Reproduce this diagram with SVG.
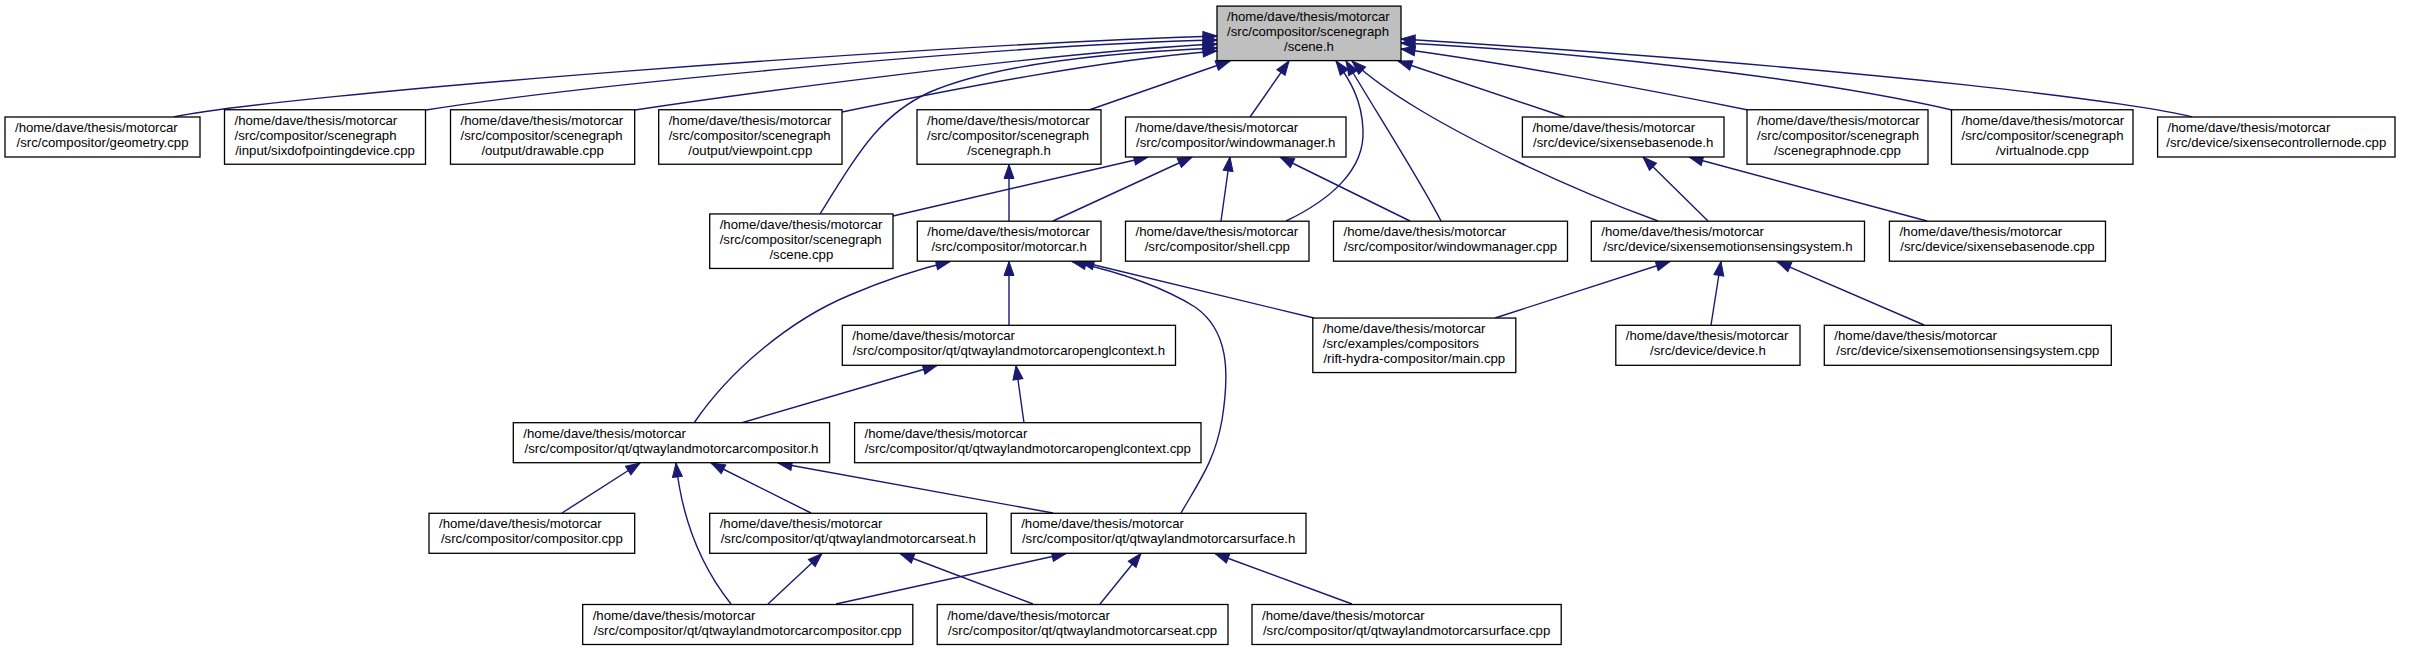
<svg xmlns="http://www.w3.org/2000/svg" width="2412" height="651" viewBox="0 0 2412 651">
<defs>
<marker id="arr" markerUnits="userSpaceOnUse" markerWidth="16" markerHeight="12" viewBox="0 0 16 12" refX="15" refY="6" orient="auto">
<path d="M1,1 L15,6 L1,11 Z" fill="#191970" stroke="#191970" stroke-width="1"/>
</marker>
</defs>
<style>
.n rect{fill:#ffffff;stroke:#000000;stroke-width:1.3}
.root rect{fill:#bfbfbf}
text{font-family:"Liberation Sans",Arial,Helvetica,sans-serif;font-size:13.2px;fill:#000000}
.m{text-anchor:middle}
#edges path{fill:none;stroke:#191970;stroke-width:1.4;marker-end:url(#arr)}
</style>
<rect width="2412" height="651" fill="#ffffff"/>
<g id="edges">
<path d="M173.5,117 C273.5,95 917,45 1217,36"/>
<path d="M426,110 C576,86 1000,45 1217,40"/>
<path d="M635,110 C735,95 1050,52 1217,44"/>
<path d="M842,112 C950,90 1100,60 1217,51"/>
<path d="M820,214 C860,150 880,115 930,92 C1000,62 1120,52 1217,48"/>
<path d="M1089,110 L1230,61"/>
<path d="M1250,117 L1289,61"/>
<path d="M1286,221 C1330,200 1365,170 1363,130 C1362,100 1350,80 1336,61"/>
<path d="M1441,221 C1420,180 1375,110 1346,61"/>
<path d="M1658,221 C1560,185 1470,140 1420,110 C1390,92 1370,78 1352,61"/>
<path d="M1565,117 L1398,61"/>
<path d="M1748,110 C1650,90 1500,62 1401,49"/>
<path d="M1952,110 C1800,75 1550,50 1401,43"/>
<path d="M2192,117 C2150,105 1900,70 1401,39"/>
<path d="M893,216 L1148,157"/>
<path d="M1053,221 L1192,157"/>
<path d="M1221,221 L1230,157"/>
<path d="M1410,221 L1280,157"/>
<path d="M1009,221 L1009,164.5"/>
<path d="M1708,221 L1643,157"/>
<path d="M1927,221 L1689,157"/>
<path d="M1009,325 L1009,261.5"/>
<path d="M1314,318 L1080,261.5"/>
<path d="M1495,318 L1670,261.5"/>
<path d="M1711,325 L1721,261.5"/>
<path d="M1924,325 L1777,261.5"/>
<path d="M694,423 C730,370 790,320 850,295 C885,280 915,270 950,261.5"/>
<path d="M741,423 L937,365.5"/>
<path d="M1024,423 L1016,365.5"/>
<path d="M1181,513 C1200,480 1215,460 1222,420 C1230,370 1228,330 1195,307 C1160,285 1110,270 1072,261.5"/>
<path d="M562,513 L640,463"/>
<path d="M811,513 L711,463"/>
<path d="M1053,513 L778,463"/>
<path d="M731,604 C700,565 682,520 676,463"/>
<path d="M768,604 L822,553.5"/>
<path d="M836,604 L1066,553.5"/>
<path d="M1033,604 L900,553.5"/>
<path d="M1100,604 L1141,553.5"/>
<path d="M1352,604 L1215,553.5"/>
</g>
<g id="node-scene-h" class="n root"><rect x="1217" y="6.1" width="184" height="54.5"/><text x="1227" y="20.85">/home/dave/thesis/motorcar</text><text x="1227" y="35.85">/src/compositor/scenegraph</text><text class="m" x="1309" y="50.85">/scene.h</text></g>
<g id="node-geometry-cpp" class="n"><rect x="5" y="117" width="195" height="40"/><text x="15" y="132">/home/dave/thesis/motorcar</text><text class="m" x="102.5" y="147">/src/compositor/geometry.cpp</text></g>
<g id="node-sixdofpointingdevice-cpp" class="n"><rect x="224.5" y="109.75" width="201" height="54.5"/><text x="234.5" y="124.5">/home/dave/thesis/motorcar</text><text x="234.5" y="139.5">/src/compositor/scenegraph</text><text class="m" x="325" y="154.5">/input/sixdofpointingdevice.cpp</text></g>
<g id="node-drawable-cpp" class="n"><rect x="450.5" y="109.75" width="184.2" height="54.5"/><text x="460.5" y="124.5">/home/dave/thesis/motorcar</text><text x="460.5" y="139.5">/src/compositor/scenegraph</text><text class="m" x="542.6" y="154.5">/output/drawable.cpp</text></g>
<g id="node-viewpoint-cpp" class="n"><rect x="658.7" y="109.75" width="183.3" height="54.5"/><text x="668.7" y="124.5">/home/dave/thesis/motorcar</text><text x="668.7" y="139.5">/src/compositor/scenegraph</text><text class="m" x="750.3" y="154.5">/output/viewpoint.cpp</text></g>
<g id="node-scenegraph-h" class="n"><rect x="917" y="109.75" width="184" height="54.5"/><text x="927" y="124.5">/home/dave/thesis/motorcar</text><text x="927" y="139.5">/src/compositor/scenegraph</text><text class="m" x="1009" y="154.5">/scenegraph.h</text></g>
<g id="node-windowmanager-h" class="n"><rect x="1125.5" y="117" width="220.5" height="40"/><text x="1135.5" y="132">/home/dave/thesis/motorcar</text><text class="m" x="1235.75" y="147">/src/compositor/windowmanager.h</text></g>
<g id="node-sixensebasenode-h" class="n"><rect x="1522.4" y="117" width="201.6" height="40"/><text x="1532.4" y="132">/home/dave/thesis/motorcar</text><text class="m" x="1623.2" y="147">/src/device/sixensebasenode.h</text></g>
<g id="node-scenegraphnode-cpp" class="n"><rect x="1747" y="109.75" width="181" height="54.5"/><text x="1757" y="124.5">/home/dave/thesis/motorcar</text><text x="1757" y="139.5">/src/compositor/scenegraph</text><text class="m" x="1837.5" y="154.5">/scenegraphnode.cpp</text></g>
<g id="node-virtualnode-cpp" class="n"><rect x="1951.5" y="109.75" width="181.5" height="54.5"/><text x="1961.5" y="124.5">/home/dave/thesis/motorcar</text><text x="1961.5" y="139.5">/src/compositor/scenegraph</text><text class="m" x="2042.25" y="154.5">/virtualnode.cpp</text></g>
<g id="node-sixensecontrollernode-cpp" class="n"><rect x="2157.6" y="117" width="237.4" height="40"/><text x="2167.6" y="132">/home/dave/thesis/motorcar</text><text class="m" x="2276.3" y="147">/src/device/sixensecontrollernode.cpp</text></g>
<g id="node-scene-cpp" class="n"><rect x="709.7" y="213.95" width="183.3" height="54.5"/><text x="719.7" y="228.7">/home/dave/thesis/motorcar</text><text x="719.7" y="243.7">/src/compositor/scenegraph</text><text class="m" x="801.35" y="258.7">/scene.cpp</text></g>
<g id="node-motorcar-h" class="n"><rect x="917.3" y="221.2" width="183.7" height="40"/><text x="927.3" y="236.2">/home/dave/thesis/motorcar</text><text class="m" x="1009.15" y="251.2">/src/compositor/motorcar.h</text></g>
<g id="node-shell-cpp" class="n"><rect x="1125.5" y="221.2" width="183.5" height="40"/><text x="1135.5" y="236.2">/home/dave/thesis/motorcar</text><text class="m" x="1217.25" y="251.2">/src/compositor/shell.cpp</text></g>
<g id="node-windowmanager-cpp" class="n"><rect x="1333.5" y="221.2" width="234" height="40"/><text x="1343.5" y="236.2">/home/dave/thesis/motorcar</text><text class="m" x="1450.5" y="251.2">/src/compositor/windowmanager.cpp</text></g>
<g id="node-sixensemotionsensingsystem-h" class="n"><rect x="1591.3" y="221.2" width="273.2" height="40"/><text x="1601.3" y="236.2">/home/dave/thesis/motorcar</text><text class="m" x="1727.9" y="251.2">/src/device/sixensemotionsensingsystem.h</text></g>
<g id="node-sixensebasenode-cpp" class="n"><rect x="1889.4" y="221.2" width="216.1" height="40"/><text x="1899.4" y="236.2">/home/dave/thesis/motorcar</text><text class="m" x="1997.45" y="251.2">/src/device/sixensebasenode.cpp</text></g>
<g id="node-openglcontext-h" class="n"><rect x="842.3" y="325.3" width="333.2" height="40"/><text x="852.3" y="340.3">/home/dave/thesis/motorcar</text><text class="m" x="1008.9" y="355.3">/src/compositor/qt/qtwaylandmotorcaropenglcontext.h</text></g>
<g id="node-main-cpp" class="n"><rect x="1312.8" y="318.05" width="203" height="54.5"/><text x="1322.8" y="332.8">/home/dave/thesis/motorcar</text><text x="1322.8" y="347.8">/src/examples/compositors</text><text class="m" x="1414.3" y="362.8">/rift-hydra-compositor/main.cpp</text></g>
<g id="node-device-h" class="n"><rect x="1615.8" y="325.3" width="184.2" height="40"/><text x="1625.8" y="340.3">/home/dave/thesis/motorcar</text><text class="m" x="1707.9" y="355.3">/src/device/device.h</text></g>
<g id="node-sixensemotionsensingsystem-cpp" class="n"><rect x="1824.3" y="325.3" width="287" height="40"/><text x="1834.3" y="340.3">/home/dave/thesis/motorcar</text><text class="m" x="1967.8" y="355.3">/src/device/sixensemotionsensingsystem.cpp</text></g>
<g id="node-qtcompositor-h" class="n"><rect x="513.3" y="422.7" width="316.3" height="40"/><text x="523.3" y="437.7">/home/dave/thesis/motorcar</text><text class="m" x="671.45" y="452.7">/src/compositor/qt/qtwaylandmotorcarcompositor.h</text></g>
<g id="node-openglcontext-cpp" class="n"><rect x="854.6" y="422.7" width="346.4" height="40"/><text x="864.6" y="437.7">/home/dave/thesis/motorcar</text><text class="m" x="1027.8" y="452.7">/src/compositor/qt/qtwaylandmotorcaropenglcontext.cpp</text></g>
<g id="node-compositor-cpp" class="n"><rect x="429" y="513.3" width="205.7" height="40"/><text x="439" y="528.3">/home/dave/thesis/motorcar</text><text class="m" x="531.85" y="543.3">/src/compositor/compositor.cpp</text></g>
<g id="node-seat-h" class="n"><rect x="709.7" y="513.3" width="277" height="40"/><text x="719.7" y="528.3">/home/dave/thesis/motorcar</text><text class="m" x="848.2" y="543.3">/src/compositor/qt/qtwaylandmotorcarseat.h</text></g>
<g id="node-surface-h" class="n"><rect x="1011.2" y="513.3" width="294.8" height="40"/><text x="1021.2" y="528.3">/home/dave/thesis/motorcar</text><text class="m" x="1158.6" y="543.3">/src/compositor/qt/qtwaylandmotorcarsurface.h</text></g>
<g id="node-qtcompositor-cpp" class="n"><rect x="582.7" y="604.5" width="330.1" height="40"/><text x="592.7" y="619.5">/home/dave/thesis/motorcar</text><text class="m" x="747.75" y="634.5">/src/compositor/qt/qtwaylandmotorcarcompositor.cpp</text></g>
<g id="node-seat-cpp" class="n"><rect x="937.2" y="604.5" width="290.8" height="40"/><text x="947.2" y="619.5">/home/dave/thesis/motorcar</text><text class="m" x="1082.6" y="634.5">/src/compositor/qt/qtwaylandmotorcarseat.cpp</text></g>
<g id="node-surface-cpp" class="n"><rect x="1252" y="604.5" width="309.2" height="40"/><text x="1262" y="619.5">/home/dave/thesis/motorcar</text><text class="m" x="1406.6" y="634.5">/src/compositor/qt/qtwaylandmotorcarsurface.cpp</text></g>
</svg>
